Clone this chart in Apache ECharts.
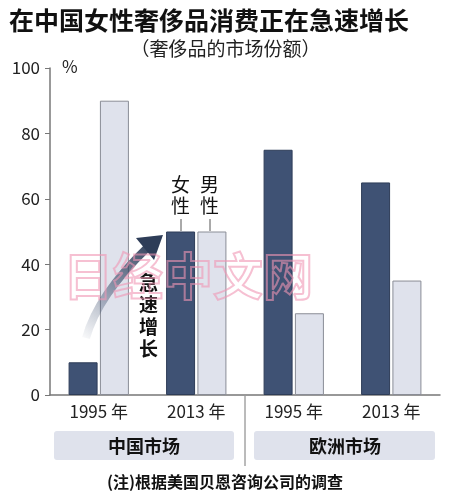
<!DOCTYPE html>
<html>
<head>
<meta charset="utf-8">
<script src="https://cdn.jsdelivr.net/npm/echarts@6/dist/echarts.min.js"></script>
<style>
  html, body { margin: 0; padding: 0; background: #fff; }
  #chart { width: 451px; height: 500px; }
</style>
</head>
<body>
<div id="chart"></div>
<script>
// data
const years = ['1995 年', '2013 年', '1995 年', '2013 年']
const markets = ['中国市场', '欧洲市场']
const female = [10, 50, 75, 65]
const male = [90, 50, 25, 35]
const yTicks = [0, 20, 40, 60, 80, 100]

const chart = echarts.init(document.getElementById('chart'))
const font = '"Noto Sans CJK SC", "Noto Sans", sans-serif'
const narrow = '"Liberation Sans Narrow", ' + font
const arrowFill = { type: 'linear', x: 0, y: 1, x2: 1, y2: 0, colorStops: [
    { offset: 0, color: 'rgba(63,82,116,0)' }, { offset: 1, color: '#2e3d58' }] }

chart.setOption({
    animation: false,
    textStyle: { fontFamily: font },
    title: [
        { text: '在中国女性奢侈品消费正在急速增长', left: 4, top: 3,
          textStyle: { fontSize: 25, fontWeight: 'bold', color: '#111', fontFamily: font } },
        { text: '（奢侈品的市场份额）', left: 'center', top: 34,
          textStyle: { fontSize: 19, fontWeight: 'normal', color: '#222', fontFamily: font } }
    ],
    grid: { left: 50, right: 11, top: 68, bottom: 105 },
    xAxis: {
        type: 'category',
        data: years,
        axisLine: { lineStyle: { color: '#777', width: 1.5 } },
        axisTick: { show: false },
        axisLabel: { color: '#222', fontSize: 17, margin: 8, fontFamily: narrow }
    },
    yAxis: {
        type: 'value',
        min: yTicks[0],
        max: yTicks[yTicks.length - 1],
        interval: 20,
        axisLine: { show: true, lineStyle: { color: '#777', width: 1.5 } },
        axisTick: { show: true, length: 5, lineStyle: { color: '#777' } },
        splitLine: { show: false },
        axisLabel: { color: '#222', fontSize: 17, margin: 10, fontFamily: narrow }
    },
    series: [
        { name: '女性', type: 'bar', data: female, barWidth: 29, barGap: '8%',
          itemStyle: { color: '#3f5274', borderColor: '#2e3d58', borderWidth: 1 } },
        { name: '男性', type: 'bar', data: male, barWidth: 29,
          itemStyle: { color: '#dfe2ec', borderColor: '#8a8d96', borderWidth: 1 } }
    ],
    graphic: {
        elements: [
            { type: 'text', left: 62, top: 58, style: { text: '%', fontSize: 17, fill: '#222', fontFamily: font } },
            // arrow
            { type: 'bezierCurve', z: 50,
              shape: { x1: 86, y1: 338, cpx1: 98, cpy1: 295, x2: 148, y2: 247 },
              style: { stroke: arrowFill, lineWidth: 8, fill: null } },
            { type: 'polygon', z: 50,
              shape: { points: [[136, 238], [163, 235], [154, 260]] },
              style: { fill: '#2e3d58' } },
            { type: 'text', left: 139, top: 272, z: 50,
              style: { text: '急\n速\n增\n长', fontSize: 19, fontWeight: 'bold', fill: '#111', lineHeight: 22, fontFamily: font } },
            { type: 'text', left: 171, top: 174,
              style: { text: '女\n性', fontSize: 19, fill: '#111', lineHeight: 21, fontFamily: font } },
            { type: 'text', left: 200, top: 174,
              style: { text: '男\n性', fontSize: 19, fill: '#111', lineHeight: 21, fontFamily: font } },
            { type: 'line', shape: { x1: 181, y1: 219, x2: 181, y2: 231 }, style: { stroke: '#555' } },
            { type: 'line', shape: { x1: 210, y1: 219, x2: 210, y2: 231 }, style: { stroke: '#555' } },
            // watermark
            { type: 'text', left: 62, top: 250, silent: true, z: 100,
              style: { text: '日经中文网', fontSize: 50, fontWeight: 'bold', fill: 'rgba(255,255,255,0)',
                       stroke: 'rgba(240,150,180,0.6)', lineWidth: 2, fontFamily: font } },
            // market boxes
            { type: 'rect', shape: { x: 54, y: 431, width: 180, height: 29, r: 3 }, style: { fill: '#dfe2ec' } },
            { type: 'rect', shape: { x: 254, y: 431, width: 181, height: 29, r: 3 }, style: { fill: '#dfe2ec' } },
            { type: 'text', x: 144, y: 446, style: { text: markets[0], fontSize: 18, fontWeight: 'bold', fill: '#111', align: 'center', verticalAlign: 'middle', fontFamily: font } },
            { type: 'text', x: 345, y: 446, style: { text: markets[1], fontSize: 18, fontWeight: 'bold', fill: '#111', align: 'center', verticalAlign: 'middle', fontFamily: font } },
            { type: 'line', shape: { x1: 245, y1: 396, x2: 245, y2: 466 }, style: { stroke: '#777', lineWidth: 1 } },
            { type: 'text', x: 225, y: 482, style: { text: '(注)根据美国贝恩咨询公司的调查', fontSize: 16, fontWeight: 'bold', fill: '#111', align: 'center', verticalAlign: 'middle', fontFamily: font } }
        ]
    }
})
</script>
</body>
</html>
